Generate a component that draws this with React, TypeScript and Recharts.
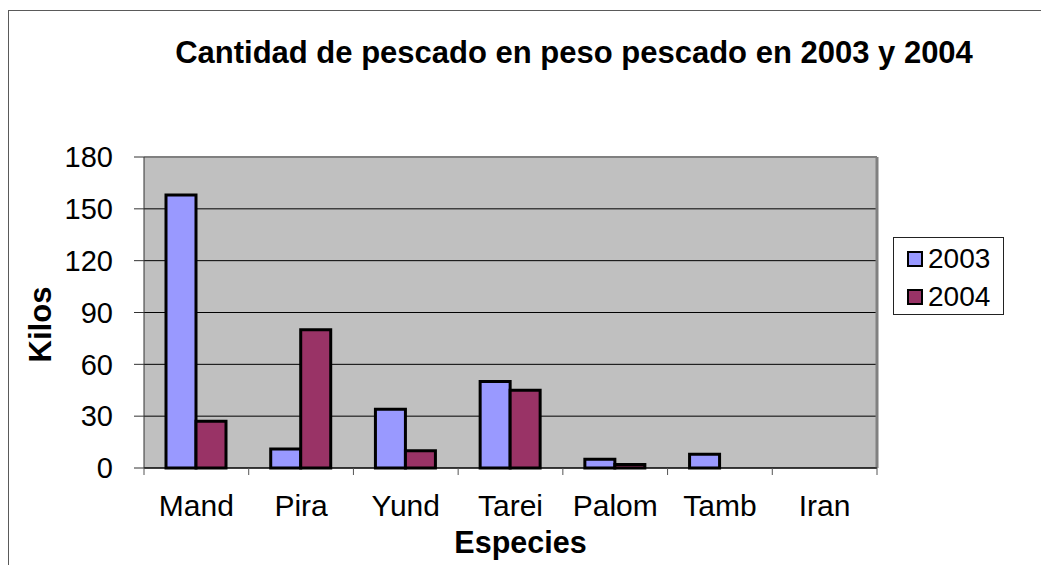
import React from 'react';
import { BarChart, Bar, XAxis, YAxis, CartesianGrid, Legend, ReferenceLine, Label } from 'recharts';

const categories = ['Mand', 'Pira', 'Yund', 'Tarei', 'Palom', 'Tamb', 'Iran'];
const values2003 = [158, 11, 34, 50, 5, 8, 0];
const values2004 = [27, 80, 10, 45, 2, 0, 0];
const yTicks = [0, 30, 60, 90, 120, 150, 180];
const seriesNames = ['2003', '2004'];
const seriesColors = ['#9999FF', '#993366'];
const titleText = 'Cantidad de pescado en peso pescado en 2003 y 2004';
const yLabelText = 'Kilos';
const xLabelText = 'Especies';

const data = categories.map((c, i) => ({ name: c, '2003': values2003[i], '2004': values2004[i] }));

const FONT = '"Liberation Sans", Arial, Helvetica, sans-serif';
const CHART_W = 1041;
const CHART_H = 557;
const MARGIN = { top: 149, right: 172, bottom: 0, left: 0 };
const Y_AXIS_W = 136;
const X_AXIS_H = 97;
const BAND_HALF = (CHART_W - MARGIN.left - MARGIN.right - Y_AXIS_W) / categories.length / 2;

const XTick = (props: any) => {
  const { x, y, payload, index } = props;
  const half = payload && typeof payload.offset === 'number' && payload.offset > 0 ? payload.offset : BAND_HALF;
  const axisY = y - 27;
  return (
    <g>
      <line x1={x - half} x2={x - half} y1={axisY} y2={axisY + 7} stroke="#555" strokeWidth={1} />
      {index === categories.length - 1 && (
        <line x1={x + half} x2={x + half} y1={axisY} y2={axisY + 7} stroke="#555" strokeWidth={1} />
      )}
      <text x={x} y={y} dy="0.71em" textAnchor="middle" fill="#000" fontFamily={FONT} fontSize={30}>
        {payload.value}
      </text>
    </g>
  );
};

const YLabel = (props: any) => {
  const vb = props.viewBox || { x: 0, y: MARGIN.top, width: Y_AXIS_W, height: 311 };
  const cx = vb.x + 32;
  const cy = vb.y + vb.height / 2 + 12;
  return (
    <text
      x={cx}
      y={cy}
      transform={`rotate(-90, ${cx}, ${cy})`}
      textAnchor="middle"
      dominantBaseline="central"
      fontFamily={FONT}
      fontWeight="bold"
      fontSize={31}
      fill="#000"
    >
      {yLabelText}
    </text>
  );
};

const XLabel = (props: any) => {
  const vb = props.viewBox || { x: Y_AXIS_W, y: 460, width: 733, height: X_AXIS_H };
  return (
    <text
      x={vb.x + vb.width / 2 + 10}
      y={vb.y + 85}
      textAnchor="middle"
      fontFamily={FONT}
      fontWeight="bold"
      fontSize={30.5}
      fill="#000"
    >
      {xLabelText}
    </text>
  );
};

const renderLegend = () => (
  <div
    style={{
      width: 111,
      height: 78,
      border: '1px solid #222',
      background: '#fff',
      boxSizing: 'border-box',
      position: 'relative',
      fontFamily: FONT,
      fontSize: 28,
      color: '#000',
    }}
  >
    {seriesNames.map((n, i) => (
      <div
        key={n}
        style={{ position: 'absolute', left: 13, top: 6 + i * 38, height: 30, display: 'flex', alignItems: 'center' }}
      >
        <span
          style={{
            display: 'inline-block',
            width: 16,
            height: 16,
            background: seriesColors[i],
            border: '2px solid #000',
            boxSizing: 'border-box',
            marginRight: 5,
          }}
        />
        <span style={{ lineHeight: '30px' }}>{n}</span>
      </div>
    ))}
  </div>
);

export default function App() {
  return (
    <div style={{ position: 'relative', width: CHART_W, height: CHART_H, overflow: 'hidden', background: '#fff' }}>
      <div
        style={{
          position: 'absolute',
          left: 0,
          top: 2,
          width: 3000,
          height: 3000,
          borderTop: '1px solid #5a5a5a',
          borderLeft: '1px solid #5a5a5a',
        }}
      />
      <div style={{ position: 'absolute', left: 0, top: 0 }}>
        <BarChart width={CHART_W} height={CHART_H} data={data} margin={MARGIN} barGap={0} barSize={30}>
          <CartesianGrid fill="#C0C0C0" stroke="#000" vertical={false} />
          <XAxis
            dataKey="name"
            height={X_AXIS_H}
            tickLine={false}
            tickSize={7}
            tickMargin={20}
            axisLine={{ stroke: '#000', strokeWidth: 1 }}
            tick={<XTick />}
            interval={0}
          >
            <Label content={<XLabel />} />
          </XAxis>
          <YAxis
            width={Y_AXIS_W}
            domain={[0, 180]}
            ticks={yTicks}
            interval={0}
            tickSize={10}
            tickMargin={21}
            axisLine={{ stroke: '#333' }}
            tickLine={{ stroke: '#333' }}
            tick={{ fill: '#000', fontFamily: FONT, fontSize: 29 }}
          >
            <Label content={<YLabel />} />
          </YAxis>
          <ReferenceLine y={180} stroke="#808080" strokeWidth={2} />
          <ReferenceLine x="Iran" position="end" stroke="#808080" strokeWidth={3} />
          <Legend
            layout="vertical"
            align="center"
            verticalAlign="middle"
            content={renderLegend}
            wrapperStyle={{ position: 'absolute', left: 885, top: 229, width: 111, height: 78, right: 'auto', bottom: 'auto' }}
          />
          <Bar dataKey="2003" name="2003" fill={seriesColors[0]} stroke="#000" strokeWidth={3} isAnimationActive={false} />
          <Bar dataKey="2004" name="2004" fill={seriesColors[1]} stroke="#000" strokeWidth={3} isAnimationActive={false} />
        </BarChart>
      </div>
      <div
        style={{
          position: 'absolute',
          left: 566,
          top: 29,
          transform: 'translateX(-50%)',
          whiteSpace: 'nowrap',
          fontFamily: FONT,
          fontWeight: 'bold',
          fontSize: 31,
          lineHeight: '31px',
          color: '#000',
        }}
      >
        {titleText}
      </div>
    </div>
  );
}
